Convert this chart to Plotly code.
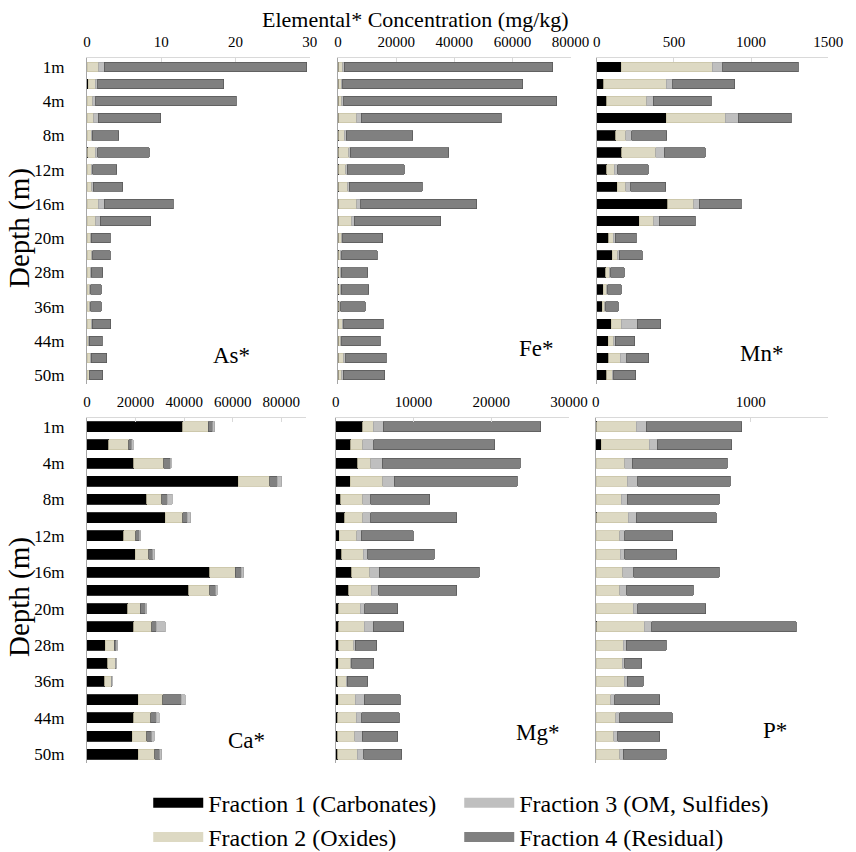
import plotly.graph_objects as go

# ── DATA ─────────────────────────────
DEPTHS = ["1m", "2m", "4m", "6m", "8m", "10m", "12m", "14m", "16m", "18m",
          "20m", "24m", "28m", "32m", "36m", "40m", "44m", "48m", "50m"]
DEPTH_TICKS = DEPTHS[::2]

FRACTIONS = ["Fraction 1 (Carbonates)", "Fraction 2 (Oxides)",
             "Fraction 3 (OM, Sulfides)", "Fraction 4 (Residual)"]

# As (mg/kg)
as_f1 = [0.05, 0.2, 0.05, 0.05, 0.05, 0.1, 0.05, 0.05, 0.05, 0.05, 0.05, 0.05, 0.05, 0.05, 0.05, 0.05, 0.05, 0.05, 0.05]
as_f2 = [1.55, 0.9, 0.75, 0.85, 0.5, 1.0, 0.5, 0.6, 1.5, 1.15, 0.45, 0.6, 0.4, 0.35, 0.35, 0.5, 0.15, 0.4, 0.25]
as_f3 = [0.7, 0.35, 0.35, 0.65, 0.15, 0.35, 0.2, 0.2, 0.8, 0.6, 0.1, 0.15, 0.1, 0.1, 0.1, 0.15, 0.1, 0.1, 0.1]
as_f4 = [27.3, 16.95, 18.95, 8.35, 3.6, 6.95, 3.25, 4.0, 9.25, 6.8, 2.5, 2.3, 1.55, 1.4, 1.45, 2.5, 1.75, 2.1, 1.7]

# Fe
fe_f1 = [200, 200, 200, 300, 300, 300, 200, 200, 300, 200, 200, 200, 200, 200, 200, 200, 200, 200, 200]
fe_f2 = [1500, 900, 1100, 6200, 1900, 3300, 2400, 3100, 6200, 4600, 1000, 600, 600, 600, 400, 1300, 700, 1800, 1100]
fe_f3 = [500, 600, 600, 1500, 700, 600, 500, 500, 1300, 700, 500, 400, 300, 300, 300, 400, 400, 700, 500]
fe_f4 = [71600, 61900, 73400, 48200, 22800, 33900, 19600, 25200, 39900, 29900, 13600, 12300, 9100, 9500, 8500, 13700, 13200, 13800, 14200]

# Mn
mn_f1 = [158, 46, 65, 451, 124, 162, 65, 131, 461, 276, 78, 99, 57, 42, 36, 95, 74, 76, 65]
mn_f2 = [589, 405, 259, 381, 65, 219, 49, 58, 168, 92, 29, 36, 25, 23, 15, 63, 35, 76, 34]
mn_f3 = [68, 42, 42, 84, 36, 55, 23, 32, 34, 36, 13, 10, 9, 7, 6, 105, 9, 42, 10]
mn_f4 = [490, 402, 375, 343, 228, 267, 196, 227, 274, 234, 137, 150, 86, 86, 82, 152, 128, 143, 144]

# Ca
ca_f1 = [39500, 8900, 19200, 62300, 24600, 32200, 15200, 19800, 50500, 41900, 16800, 19200, 7500, 8500, 7300, 21200, 19200, 18700, 21200]
ca_f2 = [10400, 8300, 12300, 13000, 6100, 7300, 4800, 5600, 10600, 8700, 5200, 7400, 3700, 3100, 2600, 10000, 7100, 5900, 6700]
ca_f3 = [800, 500, 500, 1800, 2100, 1600, 500, 700, 1200, 700, 800, 3600, 500, 300, 300, 1700, 1200, 1100, 800]
ca_f4 = [1900, 1300, 2700, 3100, 2300, 1700, 1600, 1700, 2300, 2400, 1900, 2000, 900, 300, 300, 7600, 2300, 2000, 2000]

# Mg
mg_f1 = [3500, 1960, 2840, 1880, 630, 1170, 460, 750, 2090, 1710, 420, 420, 380, 330, 290, 330, 290, 290, 290]
mg_f2 = [1340, 1540, 1670, 4170, 2870, 2330, 2250, 2800, 2290, 2840, 2750, 3250, 1960, 1590, 1040, 2210, 2340, 2130, 2510]
mg_f3 = [1290, 1380, 1460, 1500, 1010, 1010, 590, 540, 1210, 1000, 580, 1130, 160, 120, 130, 1130, 750, 1000, 830]
mg_f4 = [20240, 15600, 17770, 15810, 7590, 11090, 6670, 8590, 12890, 10010, 4260, 3960, 2800, 2880, 2670, 4630, 4800, 4590, 4840]

# P
p_f1 = [6, 36, 4, 4, 4, 6, 4, 4, 4, 4, 4, 6, 4, 4, 4, 4, 4, 4, 4]
p_f2 = [256, 309, 184, 199, 159, 203, 151, 153, 170, 149, 239, 308, 174, 165, 180, 92, 126, 111, 149]
p_f3 = [64, 50, 46, 67, 40, 53, 31, 31, 71, 48, 27, 46, 19, 17, 19, 27, 25, 27, 23]
p_f4 = [615, 482, 615, 598, 594, 516, 312, 333, 552, 427, 439, 933, 257, 109, 102, 289, 337, 272, 278]
# ─────────────────────────────────────

FILL = ["#000000", "#DDD9C3", "#BFBFBF", "#808080"]
EDGE = ["#000000", "#C9C3A6", "#A6A6A6", "#595959"]
FONT = "Liberation Serif"

# name, fractions, x range, dtick, stack order, x domain, row
panels = [
    ("As*", [as_f1, as_f2, as_f3, as_f4], [0, 30], 10, [0, 1, 2, 3], [0.0900, 0.3575], 0),
    ("Fe*", [fe_f1, fe_f2, fe_f3, fe_f4], [0, 80000], 20000, [0, 1, 2, 3], [0.3914, 0.6706], 0),
    ("Mn*", [mn_f1, mn_f2, mn_f3, mn_f4], [0, 1500], 500, [0, 1, 2, 3], [0.7021, 0.9798], 0),
    ("Ca*", [ca_f1, ca_f2, ca_f3, ca_f4], [0, 90000], 20000, [0, 1, 3, 2], [0.0900, 0.3525], 1),
    ("Mg*", [mg_f1, mg_f2, mg_f3, mg_f4], [0, 30000], 10000, [0, 1, 2, 3], [0.3886, 0.6686], 1),
    ("P*", [p_f1, p_f2, p_f3, p_f4], [0, 1500], 1000, [0, 1, 2, 3], [0.7009, 0.9798], 1),
]
ROW_Y = [[1 - 389 / 852, 1 - 52 / 852], [1 - 782 / 852, 1 - 424 / 852]]
LABEL_POS = [(226, 360), (539, 353), (770, 358), (241, 758), (540, 750), (784, 748)]
LEGEND_RANK = [1, 3, 2, 4]

fig = go.Figure()
layout = {}

for i, (name, fracs, xr, dt, order, xdom, row) in enumerate(panels):
    n = "" if i == 0 else str(i + 1)
    for k in order:
        fig.add_trace(go.Bar(
            y=DEPTHS, x=fracs[k], orientation="h", name=FRACTIONS[k],
            marker=dict(color=FILL[k], line=dict(color=EDGE[k], width=0.8)),
            showlegend=False, xaxis="x" + n, yaxis="y" + n,
        ))
    layout["xaxis" + n] = dict(
        domain=xdom, range=xr, dtick=dt, tickformat="d", side="top", anchor="y" + n,
        showline=True, linecolor="#D9D9D9", linewidth=1,
        ticks="inside", ticklen=4, tickcolor="#D9D9D9",
        showgrid=False, zeroline=False, ticklabelstandoff=4,
        tickfont=dict(family=FONT, size=15, color="black"),
    )
    layout["yaxis" + n] = dict(
        domain=ROW_Y[row], anchor="x" + n,
        categoryorder="array", categoryarray=DEPTHS, autorange="reversed",
        showline=True, linecolor="#A6A6A6", linewidth=1,
        showgrid=False, zeroline=False, ticks="",
        tickvals=DEPTH_TICKS, showticklabels=(i % 3 == 0),
        ticklabelstandoff=18,
        tickfont=dict(family=FONT, size=17, color="black"),
    )

# legend entries: wide swatches like the original key
for k in range(4):
    fig.add_trace(go.Scatter(
        x=[None], y=[None], mode="lines", name=FRACTIONS[k],
        legendrank=LEGEND_RANK[k], line=dict(color=FILL[k], width=14),
    ))

annotations = [
    dict(text="Elemental* Concentration (mg/kg)", x=415 / 856, y=1 - 12 / 852, font=dict(size=22)),
    dict(text="Depth (m)", x=7 / 856, y=1 - 228 / 852, textangle=-90, font=dict(size=29)),
    dict(text="Depth (m)", x=7 / 856, y=1 - 610 / 852, textangle=-90, font=dict(size=29)),
]
for (name, *_), (px, py) in zip(panels, LABEL_POS):
    annotations.append(dict(text=name, x=px / 856, y=1 - py / 852, font=dict(size=23)))
for a in annotations:
    a.update(xref="paper", yref="paper", showarrow=False, xanchor="center", yanchor="middle")
    a["font"].update(family=FONT, color="black")

fig.update_layout(
    **layout,
    annotations=annotations,
    barmode="stack", bargap=0.45,
    width=856, height=852,
    margin=dict(l=0, r=0, t=0, b=0),
    plot_bgcolor="white", paper_bgcolor="white",
    font=dict(family=FONT, color="black"),
    legend=dict(
        orientation="h", x=140 / 856, y=1 - 800 / 852, xanchor="left", yanchor="top",
        entrywidth=246, entrywidthmode="pixels", traceorder="normal", itemwidth=50,
        font=dict(family=FONT, size=24, color="black"),
    ),
)

fig.write_html("out.html")
